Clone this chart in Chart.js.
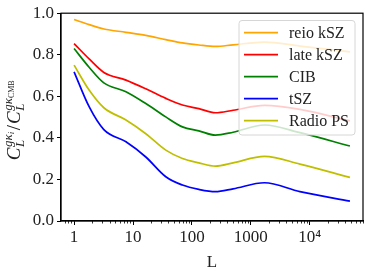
<!DOCTYPE html>
<html><head><meta charset="utf-8">
<script src="https://cdn.jsdelivr.net/npm/chart.js@4/dist/chart.umd.min.js"></script>
<style>html,body{margin:0;padding:0;background:#fff}canvas{display:block}</style>
</head><body>
<canvas id="c" width="374" height="273"></canvas>
<script>
const L = [1, 1.8, 3.2, 7.6, 16.5, 36, 69, 131, 250, 500, 1700, 6800, 48000];
const reioKSZ = [0.970, 0.945, 0.924, 0.908, 0.893, 0.873, 0.857, 0.847, 0.840, 0.848, 0.861, 0.842, 0.814];
const lateKSZ = [0.854, 0.780, 0.715, 0.678, 0.636, 0.590, 0.558, 0.541, 0.521, 0.533, 0.556, 0.537, 0.482];
const CIB     = [0.830, 0.740, 0.665, 0.622, 0.565, 0.501, 0.453, 0.434, 0.413, 0.427, 0.462, 0.425, 0.361];
const tSZ     = [0.718, 0.550, 0.440, 0.381, 0.308, 0.213, 0.173, 0.152, 0.141, 0.155, 0.184, 0.141, 0.096];
const radioPS = [0.750, 0.630, 0.545, 0.486, 0.420, 0.341, 0.301, 0.280, 0.264, 0.280, 0.311, 0.274, 0.210];
const seriesNames = ['reio kSZ', 'late kSZ', 'CIB', 'tSZ', 'Radio PS'];
const seriesColors = ['#FFA500', '#FF0000', '#008000', '#0000FF', '#BFBF00'];
const xMajorTicks = [1, 10, 100, 1000, 10000];
const xMajorLabels = ['1', '10', '100', '1000', '10⁴'];
const yTicks = [0, 0.2, 0.4, 0.6, 0.8, 1.0];

const SERIF = '"Liberation Serif", "DejaVu Serif", serif';
const allSeries = [reioKSZ, lateKSZ, CIB, tSZ, radioPS];
const datasets = allSeries.map((arr, i) => ({
  label: seriesNames[i],
  data: L.map((x, j) => ({x: x, y: arr[j]})),
  borderColor: seriesColors[i],
  backgroundColor: seriesColors[i],
  borderWidth: 1.7,
  pointRadius: 0,
  fill: false,
  cubicInterpolationMode: 'monotone'
}));

const xMin = 0.63, xMax = 80000;
function minorVals() {
  const v = [];
  for (let e = -1; e <= 4; e++) for (let m = 1; m <= 9; m++) {
    const val = m * Math.pow(10, e);
    if (val >= xMin && val <= xMax && !xMajorTicks.includes(val)) v.push(val);
  }
  return v;
}

const framePlugin = {
  id: 'frame',
  afterDatasetsDraw(chart) {
    const ctx = chart.ctx;
    ctx.save();
    const bx = 239, by = 20.5, bw = 116, bh = 114.5, r = 3;
    ctx.beginPath();
    ctx.roundRect(bx, by, bw, bh, r);
    ctx.fillStyle = 'rgba(255,255,255,0.8)';
    ctx.fill();
    ctx.strokeStyle = '#d6d6d6';
    ctx.lineWidth = 1;
    ctx.stroke();
    ctx.font = '16px ' + SERIF;
    ctx.textBaseline = 'middle';
    chart.data.datasets.forEach((ds, i) => {
      const y = 32.7 + i * 22;
      ctx.strokeStyle = ds.borderColor;
      ctx.lineWidth = 1.7;
      ctx.beginPath(); ctx.moveTo(244, y); ctx.lineTo(278, y); ctx.stroke();
      ctx.fillStyle = '#222';
      ctx.fillText(ds.label, 289, y + 1);
    });
    ctx.restore();
  },
  afterDraw(chart) {
    const ctx = chart.ctx, a = chart.chartArea;
    ctx.save();
    ctx.strokeStyle = '#000';
    ctx.lineWidth = 1.2;
    ctx.strokeRect(a.left, a.top, a.right - a.left, a.bottom - a.top);
    const xs = chart.scales.x;
    ctx.lineWidth = 0.8;
    minorVals().forEach(v => {
      const px = Math.round(xs.getPixelForValue(v)) + 0.5;
      ctx.beginPath(); ctx.moveTo(px, a.bottom); ctx.lineTo(px, a.bottom + 2.5); ctx.stroke();
    });
    ctx.translate(20, 120);
    ctx.rotate(-Math.PI / 2);
    ctx.fillStyle = '#222';
    ctx.textBaseline = 'alphabetic';
    const big = 'italic 19px ' + SERIF, mid = 'italic 13px ' + SERIF, sm = 'italic 9px ' + SERIF, smUp = '8px ' + SERIF;
    function w(font, t) { ctx.font = font; return ctx.measureText(t).width; }
    function piece(subSup) {
      const wc = w(big, 'C');
      const wl = w(mid, 'L');
      const wg = w(mid, 'gκ');
      const ws = w(subSup.font, subSup.t);
      return wc + Math.max(wl, wg + ws) + 1;
    }
    const p1 = {font: sm, t: 'i'}, p2 = {font: smUp, t: 'CMB'};
    const total = piece(p1) + w('19px ' + SERIF, '/') + 2 + piece(p2);
    let x = -total / 2;
    function drawPiece(subSup) {
      ctx.font = big; ctx.fillText('C', x, 0);
      const wc = ctx.measureText('C').width;
      const xx = x + wc + 0.5;
      ctx.font = mid; ctx.fillText('L', xx, 4);
      const wl = ctx.measureText('L').width;
      ctx.fillText('gκ', xx, -8.5);
      const wg = ctx.measureText('gκ').width;
      ctx.font = subSup.font; ctx.fillText(subSup.t, xx + wg, -6);
      const ws = ctx.measureText(subSup.t).width;
      x = xx + Math.max(wl, wg + ws) + 0.5;
    }
    drawPiece(p1);
    ctx.font = '19px ' + SERIF; ctx.fillText('/', x + 1, 0);
    x += ctx.measureText('/').width + 2;
    drawPiece(p2);
    ctx.restore();
  }
};

new Chart(document.getElementById('c'), {
  type: 'line',
  data: {datasets: datasets},
  options: {
    responsive: false,
    animation: false,
    devicePixelRatio: 1,
    layout: {padding: {top: 13, right: 11, left: 0, bottom: 0}},
    plugins: {legend: {display: false}, tooltip: {enabled: false}},
    scales: {
      x: {
        type: 'logarithmic',
        min: xMin, max: xMax,
        afterBuildTicks(s) { s.ticks = xMajorTicks.map(v => ({value: v})); },
        afterFit(s) { s.height = 52; },
        ticks: {
          autoSkip: false, maxRotation: 0, padding: 2,
          font: {family: SERIF, size: 17}, color: '#222',
          callback(v) { const i = xMajorTicks.indexOf(v); return i >= 0 ? xMajorLabels[i] : ''; }
        },
        grid: {drawOnChartArea: false, tickLength: 4, tickColor: '#000', tickWidth: 1},
        border: {display: true, color: '#000', width: 1.2},
        title: {display: true, text: 'L', font: {family: SERIF, size: 17}, color: '#222', padding: {top: 0, bottom: 0}}
      },
      y: {
        min: 0, max: 1,
        afterBuildTicks(s) { s.ticks = yTicks.map(v => ({value: v})); },
        afterFit(s) { s.width = 61; },
        ticks: {
          padding: 3,
          font: {family: SERIF, size: 17}, color: '#222',
          callback(v) { return Number(v).toFixed(1); }
        },
        grid: {drawOnChartArea: false, tickLength: 4, tickColor: '#000', tickWidth: 1},
        border: {display: true, color: '#000', width: 1.2}
      }
    }
  },
  plugins: [framePlugin]
});
</script>
</body></html>
